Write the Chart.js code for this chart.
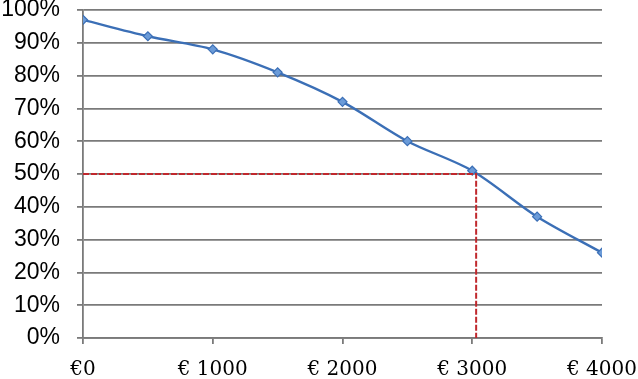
<!DOCTYPE html>
<html><head><meta charset="utf-8">
<script src="https://cdn.jsdelivr.net/npm/chart.js@4/dist/chart.umd.min.js"></script>
<style>html,body{margin:0;padding:0;background:#fff}#wrap{width:638px;height:379px}</style>
</head><body><div id="wrap"><canvas id="c" width="638" height="379"></canvas></div>
<script>
const amounts = [0, 500, 1000, 1500, 2000, 2500, 3000, 3500, 4000];
const shares = [97, 92, 88, 81, 72, 60, 51, 37, 26];
const refX = [0, 3030, 3030];
const refY = [50, 50, 0];
const xTicks = [0, 1000, 2000, 3000, 4000];
const yTicks = [0,10,20,30,40,50,60,70,80,90,100];

new Chart(document.getElementById('c'), {
  type: 'line',
  data: {
    datasets: [
      {
        data: refX.map((x,i)=>({x, y: refY[i]})),
        borderColor: '#c0282d', borderWidth: 2, borderDash: [6,2],
        pointRadius: 0, tension: 0, fill: false
      },
      {
        data: amounts.map((x,i)=>({x, y: shares[i]})),
        borderColor: '#3b6fb6', borderWidth: 2.4,
        pointStyle: 'rectRot', pointRadius: 4.5,
        pointBackgroundColor: '#6b9bd8', pointBorderColor: '#3b6fb6', pointBorderWidth: 1.2,
        tension: 0.3, fill: false
      }
    ]
  },
  options: {
    responsive: false, animation: false,
    layout: { padding: { top: 10, right: 36, left: 0, bottom: 0 } },
    plugins: { legend: { display: false }, tooltip: { enabled: false } },
    scales: {
      x: {
        type: 'linear', min: 0, max: 4000,
        afterBuildTicks: s => { s.ticks = xTicks.map(v=>({value:v})); },
        afterFit: s => { s.height = 41; s.paddingLeft = 0; s.paddingRight = 0; },
        grid: { drawOnChartArea: false, drawTicks: true, tickLength: 6, color: '#7a7a7a', lineWidth: 1.8 },
        border: { color: '#7a7a7a', width: 1.8 },
        ticks: {
          padding: 14, maxRotation: 0, autoSkip: false,
          color: '#000', font: { family: 'DejaVu Serif', size: 20 },
          callback: v => v === 0 ? '€0' : '€ ' + v
        }
      },
      y: {
        min: 0, max: 100,
        afterBuildTicks: s => { s.ticks = yTicks.map(v=>({value:v})); },
        afterFit: s => { s.width = 83; s.paddingTop = 0; s.paddingBottom = 0; },
        grid: { color: '#7a7a7a', lineWidth: 1.8, drawTicks: true, tickLength: 6 },
        border: { color: '#7a7a7a', width: 1.8 },
        ticks: {
          padding: 17, color: '#000',
          font: { family: 'Liberation Sans', size: 23 },
          callback: v => v + '%'
        }
      }
    }
  }
});
</script></body></html>
